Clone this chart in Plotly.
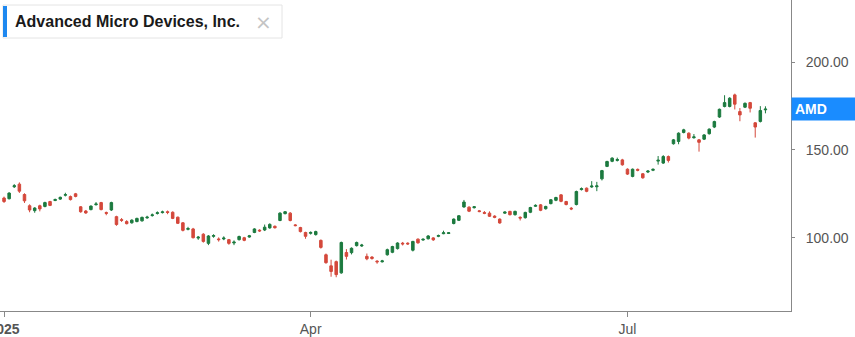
import plotly.graph_objects as go

dates = [
    "2025-01-02","2025-01-03","2025-01-06","2025-01-07","2025-01-08","2025-01-10","2025-01-13","2025-01-14","2025-01-15","2025-01-16",
    "2025-01-17","2025-01-21","2025-01-22","2025-01-23","2025-01-24","2025-01-27","2025-01-28","2025-01-29","2025-01-30","2025-01-31",
    "2025-02-03","2025-02-04","2025-02-05","2025-02-06","2025-02-07","2025-02-10","2025-02-11","2025-02-12","2025-02-13","2025-02-14",
    "2025-02-18","2025-02-19","2025-02-20","2025-02-21","2025-02-24","2025-02-25","2025-02-26","2025-02-27","2025-02-28",
    "2025-03-03","2025-03-04","2025-03-05","2025-03-06","2025-03-07","2025-03-10","2025-03-11","2025-03-12","2025-03-13","2025-03-14",
    "2025-03-17","2025-03-18","2025-03-19","2025-03-20","2025-03-21","2025-03-24","2025-03-25","2025-03-26","2025-03-27","2025-03-28","2025-03-31",
    "2025-04-01","2025-04-02","2025-04-03","2025-04-04","2025-04-07","2025-04-08","2025-04-09","2025-04-10","2025-04-11","2025-04-14",
    "2025-04-15","2025-04-16","2025-04-17","2025-04-21","2025-04-22","2025-04-23","2025-04-24","2025-04-25","2025-04-28","2025-04-29","2025-04-30",
    "2025-05-01","2025-05-02","2025-05-05","2025-05-06","2025-05-07","2025-05-08","2025-05-09","2025-05-12","2025-05-13","2025-05-14",
    "2025-05-15","2025-05-16","2025-05-19","2025-05-20","2025-05-21","2025-05-22","2025-05-23","2025-05-27","2025-05-28","2025-05-29","2025-05-30",
    "2025-06-02","2025-06-03","2025-06-04","2025-06-05","2025-06-06","2025-06-09","2025-06-10","2025-06-11","2025-06-12","2025-06-13",
    "2025-06-16","2025-06-17","2025-06-18","2025-06-20","2025-06-23","2025-06-24","2025-06-25","2025-06-26","2025-06-27","2025-06-30",
    "2025-07-01","2025-07-02","2025-07-03","2025-07-07","2025-07-08","2025-07-09","2025-07-10","2025-07-11","2025-07-14","2025-07-15",
    "2025-07-16","2025-07-17","2025-07-18","2025-07-21","2025-07-22","2025-07-23","2025-07-24","2025-07-25","2025-07-28","2025-07-29",
    "2025-07-30","2025-07-31","2025-08-01","2025-08-04","2025-08-05","2025-08-06","2025-08-07","2025-08-08",
]

opens = [
    122.6,122.2,129.0,130.5,124.6,118.2,115.4,118.2,117.8,120.6,
    121.2,122.0,124.2,123.4,125.0,117.6,115.2,116.0,118.8,120.0,
    114.3,115.8,112.0,110.3,109.2,108.5,109.2,109.6,111.3,112.6,
    113.8,114.3,114.8,114.5,111.7,108.5,104.8,105.0,99.8,
    102.0,96.8,100.8,99.3,99.3,98.9,97.0,98.9,100.0,100.4,
    103.0,104.3,104.4,105.6,106.5,109.8,113.7,114.0,107.3,105.8,103.0,
    102.5,101.8,98.5,90.3,84.0,86.4,80.0,91.6,91.5,95.5,
    95.3,89.4,89.0,86.7,86.3,90.3,91.7,93.8,96.9,96.9,92.9,
    99.2,98.7,99.4,99.9,100.8,102.3,102.4,108.1,109.9,117.5,
    117.4,117.1,115.3,114.3,114.0,112.3,110.6,114.0,115.0,113.1,111.6,
    111.4,114.5,117.9,118.7,116.5,119.4,121.3,124.4,120.6,116.8,
    118.9,127.4,128.2,128.9,129.0,133.5,140.6,143.5,144.0,144.3,
    139.0,134.9,138.9,136.4,137.4,138.4,143.6,142.5,146.2,153.5,
    154.8,159.9,159.5,156.9,155.7,156.1,159.2,163.0,168.7,174.7,
    174.7,181.3,171.8,174.3,176.9,165.4,166.2,172.8,
]

highs = [
    123.4,125.9,130.5,131.5,125.3,119.0,117.4,118.8,120.5,121.0,
    122.3,123.4,125.6,124.0,125.5,118.0,115.8,118.4,120.3,120.4,
    114.9,120.5,112.5,111.2,110.0,110.5,111.4,112.0,112.5,113.8,
    115.0,115.4,115.5,115.0,112.0,108.9,106.2,105.6,101.0,
    102.6,101.5,102.0,100.2,100.8,99.3,98.5,101.2,100.5,101.6,
    105.4,104.8,107.5,108.2,107.0,114.5,115.2,114.6,107.8,106.2,103.4,
    103.6,104.0,99.0,91.0,87.5,87.0,97.8,93.5,94.5,97.8,
    96.5,91.0,89.5,87.2,87.4,93.8,95.4,97.4,97.6,97.4,98.2,
    99.6,99.7,101.5,100.3,101.8,104.0,103.2,111.0,112.9,121.5,
    117.9,118.0,115.8,115.2,115.0,112.8,111.0,115.0,115.3,115.4,112.2,
    114.8,117.6,119.0,119.2,118.2,122.0,123.3,124.8,121.0,117.5,
    126.8,128.6,128.6,132.2,131.8,138.6,143.8,145.8,145.6,144.9,
    139.5,139.4,139.4,136.8,138.5,139.5,146.5,147.0,146.8,156.2,
    160.0,162.0,160.0,159.0,156.2,159.0,162.2,166.6,173.5,181.1,
    180.0,182.0,173.8,177.0,177.3,165.8,174.9,174.8,
]

lows = [
    119.8,121.8,128.3,125.5,119.8,114.5,114.2,115.0,117.3,118.0,
    120.8,121.5,123.5,121.2,123.0,114.2,113.6,115.6,118.3,115.6,
    112.8,115.2,106.8,109.0,107.6,108.0,108.8,109.2,110.8,112.0,
    113.2,113.8,113.4,110.6,107.8,103.6,104.2,99.6,98.8,
    97.2,95.8,100.0,97.8,98.6,96.0,95.8,98.4,98.0,100.0,
    102.6,103.3,103.8,105.1,105.2,109.4,113.3,109.3,106.5,103.0,99.4,
    101.8,101.2,93.8,85.2,77.8,77.5,79.5,87.6,90.5,95.0,
    94.8,87.2,87.5,85.2,85.9,89.8,91.2,93.3,95.6,95.9,92.2,
    96.6,98.3,99.0,98.2,100.3,102.0,102.1,107.6,109.5,117.1,
    114.6,116.6,114.5,113.4,111.8,111.1,108.0,113.6,112.7,112.6,109.8,
    110.9,114.0,117.5,115.1,116.0,119.0,120.8,120.2,118.4,115.7,
    118.4,126.9,125.9,128.4,126.5,132.6,140.2,143.0,143.4,141.0,
    135.7,134.4,137.8,133.6,136.8,137.9,141.6,142.0,142.8,153.0,
    153.2,159.4,156.0,156.4,149.0,155.6,158.7,162.4,168.2,174.2,
    174.2,173.0,166.3,173.8,171.3,157.0,165.6,170.8,
]

closes = [
    120.6,125.4,129.6,126.5,121.0,115.8,116.9,116.4,120.0,118.4,
    121.7,123.0,124.5,121.7,123.5,114.8,114.1,118.0,119.2,116.0,
    113.9,120.0,107.5,109.9,108.0,110.0,111.0,111.6,111.7,113.0,
    114.2,114.7,114.4,111.0,108.2,104.2,105.2,100.0,100.3,
    97.9,101.0,101.2,98.9,99.8,96.8,97.5,100.7,98.5,101.1,
    105.0,103.9,106.0,107.6,105.7,114.0,114.8,109.8,106.9,103.5,100.8,
    103.0,103.5,94.5,85.8,80.8,79.0,97.3,89.4,94.0,97.3,
    95.8,88.0,88.2,86.3,86.8,93.2,95.0,97.0,96.5,96.5,97.9,
    97.1,99.1,101.0,98.8,101.2,102.8,102.8,110.6,112.5,120.3,
    115.1,117.6,114.9,113.9,112.2,111.6,108.4,114.6,113.1,115.0,111.2,
    114.4,117.2,118.4,115.6,117.8,121.6,122.9,120.7,118.9,116.4,
    126.3,127.9,126.4,129.4,129.5,138.2,143.4,145.3,144.5,141.5,
    136.2,139.0,138.4,134.1,137.9,138.9,144.1,146.2,144.0,155.7,
    159.5,161.4,156.7,157.4,154.3,158.5,161.8,166.1,173.1,176.9,
    179.4,176.0,169.9,176.5,173.7,163.0,172.4,173.2,
]

holidays = ["2025-01-01", "2025-01-09", "2025-01-20", "2025-02-17", "2025-04-18",
            "2025-05-26", "2025-06-19", "2025-07-04"]
tick_dates = ["2025-01-02", "2025-04-01", "2025-07-01"]
tick_labels = ["<b>2025</b>", "Apr", "Jul"]
y_ticks = [100, 150, 200]
y_tick_labels = ["100.00", "150.00", "200.00"]
symbol = "AMD"
company = "Advanced Micro Devices, Inc."

GREEN = "#1c7a3f"
RED = "#d4483b"

fig = go.Figure(go.Candlestick(
    x=dates, open=opens, high=highs, low=lows, close=closes,
    increasing=dict(line=dict(color=GREEN, width=1), fillcolor=GREEN),
    decreasing=dict(line=dict(color=RED, width=1), fillcolor=RED),
    whiskerwidth=0, showlegend=False, hoverinfo="skip",
))

W, H = 855, 337
ML, MR, MT, MB = 0, 64, 0, 26

fig.update_layout(
    width=W, height=H,
    margin=dict(l=ML, r=MR, t=MT, b=MB, pad=0),
    paper_bgcolor="white", plot_bgcolor="white",
    font=dict(family="Liberation Sans, Arial, sans-serif", size=14, color="#555"),
    xaxis=dict(
        type="date",
        range=["2024-12-31 05:00", "2025-08-15 00:00"],
        rangebreaks=[dict(bounds=["sat", "mon"]), dict(values=holidays)],
        rangeslider=dict(visible=False),
        tickvals=tick_dates, ticktext=tick_labels,
        ticks="outside", ticklen=5, tickcolor="#888",
        showline=True, linecolor="#888", linewidth=1,
        showgrid=False, zeroline=False, automargin=False,
        ticklabeloverflow="allow",
        tickfont=dict(size=14, color="#555"),
    ),
    yaxis=dict(
        side="right",
        range=[58.3, 235.3],
        tickvals=y_ticks, ticktext=y_tick_labels,
        ticks="outside", ticklen=3, tickcolor="#888",
        showline=True, linecolor="#888", linewidth=1,
        showgrid=False, zeroline=False, automargin=False,
        tickfont=dict(size=14, color="#555"),
        ticklabelstandoff=8,
    ),
    shapes=[
        dict(type="rect", xref="paper", yref="paper", xsizemode="pixel", ysizemode="pixel",
             xanchor=0, yanchor=1, x0=3, x1=282, y0=-38, y1=-5,
             line=dict(color="#e4e4e4", width=1), fillcolor="white", layer="above"),
        dict(type="rect", xref="paper", yref="paper", xsizemode="pixel", ysizemode="pixel",
             xanchor=0, yanchor=1, x0=3, x1=7, y0=-37, y1=-6,
             line=dict(width=0), fillcolor="#1e88f0", layer="above"),
    ],
    annotations=[
        dict(xref="paper", yref="paper", x=0, y=1, xshift=13, yshift=-21.5,
             xanchor="left", yanchor="middle", showarrow=False,
             text="<b>" + company + "</b>",
             font=dict(family="Liberation Sans, Arial, sans-serif", size=16, color="#1a1a1a")),
        dict(xref="paper", yref="paper", x=0, y=1, xshift=263, yshift=-21.5,
             xanchor="center", yanchor="middle", showarrow=False,
             text="×", font=dict(family="DejaVu Sans, sans-serif", size=20, color="#c4c4c4")),
        dict(xref="paper", yref="y", x=1, y=closes[-1], xanchor="left", yanchor="middle",
             showarrow=False, text="<b>" + symbol + "</b>", align="left",
             bgcolor="#1a8cff", width=58, height=16, borderpad=3,
             font=dict(family="Liberation Sans, Arial, sans-serif", size=14, color="white")),
    ],
)

fig.write_html("out.html")
